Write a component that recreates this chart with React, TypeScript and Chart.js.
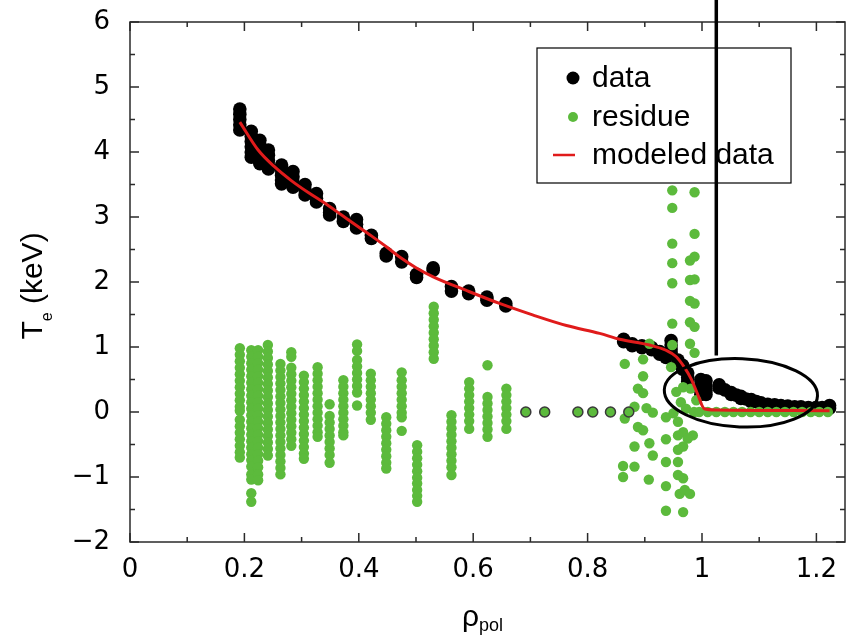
import React, { useEffect, useRef } from 'react';
import { Chart, registerables } from 'chart.js';

Chart.register(...registerables);

// ---- axes ----
const X_MIN = 0;
const X_MAX = 1.25;
const Y_MIN = -2;
const Y_MAX = 6;
const xTickValues = [0, 0.2, 0.4, 0.6, 0.8, 1, 1.2];
const xTickLabels = ['0', '0.2', '0.4', '0.6', '0.8', '1', '1.2'];
const xMinorTickValues = [0.1, 0.3, 0.5, 0.7, 0.9, 1.1];
const yTickValues = [-2, -1, 0, 1, 2, 3, 4, 5, 6];
const yTickLabels = ['\u22122', '\u22121', '0', '1', '2', '3', '4', '5', '6'];
const yMinorTickValues = [-1.5, -0.5, 0.5, 1.5, 2.5, 3.5, 4.5, 5.5];

// ---- measured data (black): columns of points ----
const dataColumnsRho = [
  0.192, 0.212, 0.227, 0.242, 0.265, 0.285, 0.306, 0.326, 0.349, 0.373, 0.396, 0.422, 0.448, 0.475,
  0.501, 0.53, 0.562, 0.592, 0.624, 0.657, 0.863, 0.878, 0.895, 0.912, 0.926, 0.937, 0.946, 0.958,
  0.966, 0.975, 0.998, 1.007, 1.03, 1.04, 1.051, 1.06, 1.068, 1.077, 1.086, 1.095, 1.103, 1.115,
  1.127, 1.138, 1.15, 1.162, 1.173, 1.186, 1.199, 1.21, 1.223,
];
const dataColumnsTe = [
  [4.66, 4.58, 4.5, 4.42, 4.34],
  [4.32, 4.24, 4.16, 4.08, 4.0, 3.92],
  [4.18, 4.1, 4.02, 3.94, 3.86, 3.82],
  [4.03, 3.95, 3.87, 3.8, 3.74],
  [3.8, 3.72, 3.64, 3.57, 3.51],
  [3.7, 3.62, 3.54, 3.46],
  [3.5, 3.42, 3.34],
  [3.36, 3.29, 3.23],
  [3.13, 3.07, 3.03],
  [3.0, 2.93],
  [2.96, 2.89, 2.83],
  [2.72, 2.67],
  [2.44, 2.4],
  [2.39, 2.31],
  [2.12, 2.07],
  [2.22, 2.18],
  [1.93, 1.86],
  [1.86, 1.82],
  [1.77, 1.72],
  [1.67, 1.63],
  [1.12, 1.08],
  [1.05, 1.02],
  [1.02, 0.99],
  [0.99, 0.96],
  [0.93, 0.89],
  [0.87, 0.84],
  [1.1, 1.03, 0.97, 0.91],
  [0.8, 0.75],
  [0.72, 0.66],
  [0.6, 0.53, 0.47],
  [0.5, 0.42, 0.34, 0.27],
  [0.48, 0.4, 0.33, 0.27],
  [0.42, 0.37],
  [0.34],
  [0.3, 0.27],
  [0.26],
  [0.24, 0.21],
  [0.2],
  [0.19, 0.16],
  [0.16],
  [0.14, 0.12],
  [0.12],
  [0.11, 0.09],
  [0.1],
  [0.09, 0.07],
  [0.08],
  [0.08, 0.06],
  [0.07],
  [0.07, 0.05],
  [0.07],
  [0.1, 0.06],
];

// ---- residue (green): columns of points ----
const residueColumnsRho = [
  0.192, 0.212, 0.224, 0.241, 0.263, 0.282, 0.304, 0.328, 0.349, 0.373, 0.397, 0.421, 0.448, 0.475,
  0.502, 0.531, 0.562, 0.593, 0.625, 0.658,
];
const residueColumnsTe = [
  [0.98, 0.88, 0.78, 0.68, 0.58, 0.48, 0.38, 0.28, 0.18, 0.08, 0.02, -0.12, -0.22, -0.32, -0.42, -0.52, -0.62, -0.7],
  [0.95, 0.85, 0.75, 0.65, 0.55, 0.45, 0.35, 0.25, 0.15, 0.05, -0.05, -0.15, -0.25, -0.35, -0.45, -0.55, -0.65, -0.74, -0.84, -0.96, -1.04, -1.25, -1.38],
  [0.95, 0.85, 0.75, 0.65, 0.55, 0.45, 0.35, 0.25, 0.15, 0.05, -0.05, -0.15, -0.25, -0.35, -0.45, -0.55, -0.65, -0.75, -0.85, -0.96, -1.05],
  [1.03, 0.93, 0.83, 0.73, 0.63, 0.53, 0.43, 0.33, 0.23, 0.13, 0.03, -0.07, -0.17, -0.27, -0.37, -0.47, -0.57, -0.67],
  [0.74, 0.64, 0.54, 0.44, 0.34, 0.24, 0.14, 0.04, -0.06, -0.16, -0.26, -0.36, -0.46, -0.56, -0.66, -0.76, -0.86, -0.96],
  [0.92, 0.85, 0.68, 0.58, 0.48, 0.38, 0.28, 0.18, 0.08, -0.02, -0.12, -0.22, -0.32, -0.42, -0.52],
  [0.56, 0.46, 0.36, 0.26, 0.16, 0.06, -0.04, -0.14, -0.24, -0.34, -0.44, -0.54, -0.64, -0.72],
  [0.69, 0.59, 0.49, 0.39, 0.29, 0.19, 0.09, -0.01, -0.11, -0.21, -0.31, -0.38],
  [0.12, -0.06, -0.16, -0.26, -0.36, -0.46, -0.56, -0.66, -0.78],
  [0.49, 0.39, 0.29, 0.19, 0.09, -0.01, -0.11, -0.21, -0.31, -0.36],
  [1.04, 0.94, 0.8, 0.7, 0.6, 0.5, 0.4, 0.3, 0.1],
  [0.59, 0.49, 0.39, 0.29, 0.19, 0.09, -0.01, -0.12],
  [-0.08, -0.18, -0.28, -0.38, -0.48, -0.58, -0.68, -0.78, -0.87],
  [0.61, 0.49, 0.39, 0.29, 0.19, 0.09, -0.01, -0.08, -0.29],
  [-0.51, -0.61, -0.71, -0.81, -0.91, -1.01, -1.1, -1.2, -1.29, -1.38],
  [1.62, 1.52, 1.42, 1.32, 1.22, 1.12, 1.02, 0.92, 0.82],
  [-0.05, -0.15, -0.25, -0.35, -0.45, -0.55, -0.65, -0.75, -0.85, -0.97],
  [0.46, 0.36, 0.26, 0.16, 0.06, -0.04, -0.14, -0.26],
  [0.72, 0.23, 0.13, 0.03, -0.07, -0.17, -0.27, -0.38],
  [0.36, 0.26, 0.16, 0.06, -0.04, -0.14, -0.26],
];

// ---- residue (green): scattered points near the edge ----
const residueEdgeRho = [
  0.948, 0.948, 0.948, 0.948, 0.948, 0.948, 0.948,
  0.987, 0.987, 0.979, 0.987, 0.979, 0.987, 0.979, 0.987, 0.979, 0.987, 0.979, 0.987,
  0.908, 0.897, 0.865, 0.897, 0.888, 0.897, 0.882, 0.903, 0.914, 0.865, 0.937, 0.958, 0.888,
  0.897, 0.967, 0.958, 0.984, 0.975, 0.937, 0.908, 0.882, 0.967, 0.958, 0.914, 0.937, 0.958,
  0.882, 0.862, 0.862, 0.907, 0.958, 0.967, 0.937, 0.961, 0.97, 0.979, 0.937, 0.967,
  0.946, 0.967, 0.98, 0.955, 0.963, 0.99, 0.986, 0.972, 0.95,
];
const residueEdgeTe = [
  3.41, 3.14, 2.59, 2.29, 1.98, 1.36, 1.03,
  3.38, 2.74, 2.33, 2.39, 2.03, 2.04, 1.71, 1.67, 1.38, 1.31, 1.05, 0.91,
  1.05, 0.81, 0.74, 0.55, 0.36, 0.29, 0.08, 0.06, -0.01, -0.1, -0.08, -0.15, -0.23,
  -0.28, -0.31, -0.36, -0.36, -0.41, -0.42, -0.48, -0.53, -0.53, -0.58, -0.67, -0.77, -0.77,
  -0.84, -0.83, -1.0, -1.04, -0.97, -1.02, -1.14, -1.26, -1.2, -1.26, -1.52, -1.54,
  0.69, 0.38, 0.36, 0.31, 0.15, 0.18, 0.0, 0.05, -0.02,
];
// residue along zero outside the separatrix
const residueOuterRho = [0.995, 1.01, 1.025, 1.04, 1.055, 1.07, 1.085, 1.1, 1.115, 1.13, 1.145, 1.16, 1.175, 1.19, 1.205, 1.22];
const residueOuterTe = [0, 0, 0, 0, 0, 0, 0, 0, 0, 0, 0, 0, 0, 0, 0, 0];
// residue dots at zero (outlined)
const residueZeroRho = [0.692, 0.725, 0.783, 0.809, 0.84, 0.872];
const residueZeroTe = [0, 0, 0, 0, 0, 0];

// ---- modeled data (red line) ----
const modelRho = [
  0.192, 0.224, 0.253, 0.282, 0.311, 0.341, 0.37, 0.399, 0.425, 0.45, 0.472, 0.5, 0.53, 0.588,
  0.646, 0.705, 0.763, 0.821, 0.856, 0.908, 0.937, 0.955, 0.969, 0.981, 0.993, 1.004, 1.025, 1.223,
];
const modelTe = [
  4.46, 4.03, 3.77, 3.56, 3.38, 3.21, 3.03, 2.85, 2.69, 2.53, 2.38, 2.22, 2.08, 1.87,
  1.67, 1.49, 1.33, 1.21, 1.12, 1.03, 0.95, 0.85, 0.69, 0.51, 0.26, 0.05, 0.03, 0.02,
];

// ---- annotations ----
const markerRho = 1.025;
const markerTeBottom = 0.87;
const ellipseRho = 1.068;
const ellipseTe = 0.295;
const ellipseRhoRadius = 0.134;
const ellipseTeRadius = 0.525;
const ellipseTilt = 0.04;

const seriesLabels = ['data', 'residue', 'modeled data'];

const BLACK = '#000000';
const GREEN = '#5cba3c';
const RED = '#e01b1b';
const AXIS = '#2a2a2a';

const columnsToPoints = (rhos: number[], cols: number[][]) =>
  rhos.flatMap((r, i) => cols[i].map((v) => ({ x: r, y: v })));
const pairsToPoints = (rhos: number[], tes: number[]) => rhos.map((r, i) => ({ x: r, y: tes[i] }));

const decorPlugin = {
  id: 'decor',
  afterDatasetsDraw(chart: any) {
    const { ctx, chartArea: a, scales } = chart;
    const xs = scales.x;
    const ys = scales.y;
    ctx.save();
    // frame
    ctx.strokeStyle = AXIS;
    ctx.lineWidth = 1.5;
    ctx.strokeRect(a.left, a.top, a.right - a.left, a.bottom - a.top);
    // inward ticks, all four sides
    const drawX = (vals: number[], len: number) => {
      vals.forEach((v) => {
        const px = xs.getPixelForValue(v);
        ctx.beginPath();
        ctx.moveTo(px, a.bottom);
        ctx.lineTo(px, a.bottom - len);
        ctx.moveTo(px, a.top);
        ctx.lineTo(px, a.top + len);
        ctx.stroke();
      });
    };
    const drawY = (vals: number[], len: number) => {
      vals.forEach((v) => {
        const py = ys.getPixelForValue(v);
        ctx.beginPath();
        ctx.moveTo(a.left, py);
        ctx.lineTo(a.left + len, py);
        ctx.moveTo(a.right, py);
        ctx.lineTo(a.right - len, py);
        ctx.stroke();
      });
    };
    drawX(xTickValues, 9);
    drawX(xMinorTickValues, 5);
    drawY(yTickValues, 9);
    drawY(yMinorTickValues, 5);

    // ellipse
    const cx = xs.getPixelForValue(ellipseRho);
    const cy = ys.getPixelForValue(ellipseTe);
    const rx = xs.getPixelForValue(ellipseRho + ellipseRhoRadius) - cx;
    const ry = cy - ys.getPixelForValue(ellipseTe + ellipseTeRadius);
    ctx.beginPath();
    ctx.ellipse(cx, cy, rx, ry, ellipseTilt, 0, Math.PI * 2);
    ctx.lineWidth = 3;
    ctx.strokeStyle = BLACK;
    ctx.stroke();
    ctx.restore();
  },
  afterDraw(chart: any) {
    const { ctx, chartArea: a, scales } = chart;
    const xs = scales.x;
    const ys = scales.y;
    ctx.save();

    // legend
    const lx = a.right - 308;
    const ly = a.top + 26;
    const lw = 254;
    const lh = 135;
    ctx.fillStyle = '#ffffff';
    ctx.fillRect(lx, ly, lw, lh);
    ctx.strokeStyle = BLACK;
    ctx.lineWidth = 1.2;
    ctx.strokeRect(lx, ly, lw, lh);
    const rowY = [ly + 30, ly + 69, ly + 107];
    const markX = lx + 36;
    ctx.fillStyle = BLACK;
    ctx.beginPath();
    ctx.arc(markX, rowY[0], 6.5, 0, Math.PI * 2);
    ctx.fill();
    ctx.fillStyle = GREEN;
    ctx.beginPath();
    ctx.arc(markX, rowY[1], 5, 0, Math.PI * 2);
    ctx.fill();
    ctx.strokeStyle = RED;
    ctx.lineWidth = 2.5;
    ctx.beginPath();
    ctx.moveTo(markX - 20, rowY[2]);
    ctx.lineTo(markX + 2, rowY[2]);
    ctx.stroke();
    ctx.fillStyle = BLACK;
    ctx.font = '30px "Liberation Sans", Arial, sans-serif';
    ctx.textBaseline = 'alphabetic';
    ctx.textAlign = 'left';
    seriesLabels.forEach((t, i) => ctx.fillText(t, lx + 55, rowY[i] + 9));

    // vertical marker line (extends above the plot)
    const mx = xs.getPixelForValue(markerRho);
    const my = ys.getPixelForValue(markerTeBottom);
    ctx.strokeStyle = BLACK;
    ctx.lineWidth = 3.5;
    ctx.beginPath();
    ctx.moveTo(mx, my);
    ctx.lineTo(mx, 0);
    ctx.stroke();

    // y-axis title: T_e (keV)
    const big = '30px "Liberation Sans", Arial, sans-serif';
    const small = '16px "Liberation Sans", Arial, sans-serif';
    ctx.save();
    ctx.translate(a.left - 88, (a.top + a.bottom) / 2 + 4);
    ctx.rotate(-Math.PI / 2);
    ctx.font = big;
    const wT = ctx.measureText('T').width;
    const wRest = ctx.measureText(' (keV)').width;
    ctx.font = small;
    const wE = ctx.measureText('e').width;
    let px = -(wT + wE + wRest) / 2;
    ctx.font = big;
    ctx.fillText('T', px, 0);
    px += wT;
    ctx.font = small;
    ctx.fillText('e', px, 10);
    px += wE;
    ctx.font = big;
    ctx.fillText(' (keV)', px, 0);
    ctx.restore();

    // x-axis title: rho_pol
    ctx.font = big;
    const wRho = ctx.measureText('\u03C1').width;
    const smallX = '18px "Liberation Sans", Arial, sans-serif';
    ctx.font = smallX;
    const wPol = ctx.measureText('pol').width;
    let tx = (a.left + a.right) / 2 - 5 - (wRho + wPol) / 2;
    const base = a.bottom + 84;
    ctx.font = big;
    ctx.fillText('\u03C1', tx, base);
    tx += wRho;
    ctx.font = smallX;
    ctx.fillText('pol', tx, base + 5);

    ctx.restore();
  },
};

export default function App() {
  const canvasRef = useRef<HTMLCanvasElement | null>(null);

  useEffect(() => {
    if (!canvasRef.current) return;
    const tickFont = { family: '"DejaVu Sans", sans-serif', size: 26 };
    const chart = new Chart(canvasRef.current, {
      type: 'scatter',
      data: {
        datasets: [
          {
            label: seriesLabels[2],
            data: pairsToPoints(modelRho, modelTe),
            showLine: true,
            borderColor: RED,
            borderWidth: 3,
            pointRadius: 0,
            cubicInterpolationMode: 'monotone',
            order: 0,
          } as any,
          {
            label: '',
            data: pairsToPoints(residueZeroRho, residueZeroTe),
            backgroundColor: GREEN,
            borderColor: '#3a3a3a',
            borderWidth: 1.5,
            pointRadius: 5,
            order: 1,
          },
          {
            label: seriesLabels[1],
            data: [
              ...columnsToPoints(residueColumnsRho, residueColumnsTe),
              ...pairsToPoints(residueEdgeRho, residueEdgeTe),
              ...pairsToPoints(residueOuterRho, residueOuterTe),
            ],
            backgroundColor: GREEN,
            borderWidth: 0,
            pointRadius: 5.2,
            order: 2,
          },
          {
            label: seriesLabels[0],
            data: columnsToPoints(dataColumnsRho, dataColumnsTe),
            backgroundColor: BLACK,
            borderWidth: 0,
            pointRadius: 6.8,
            order: 3,
          },
        ],
      },
      options: {
        animation: false,
        responsive: false,
        events: [],
        layout: { padding: { top: 22, right: 7, left: 0, bottom: 0 } },
        plugins: { legend: { display: false }, tooltip: { enabled: false } },
        scales: {
          x: {
            type: 'linear',
            min: X_MIN,
            max: X_MAX,
            position: 'bottom',
            afterBuildTicks: (s: any) => {
              s.ticks = xTickValues.map((v) => ({ value: v }));
            },
            afterFit: (s: any) => {
              s.height = 97;
              s.paddingLeft = 0;
              s.paddingRight = 0;
            },
            grid: { display: false, drawTicks: false, tickLength: 0 },
            border: { display: false },
            ticks: {
              font: tickFont,
              color: '#000',
              padding: 13,
              maxRotation: 0,
              minRotation: 0,
              autoSkip: false,
              callback: (_v: any, i: number) => xTickLabels[i],
            },
          },
          y: {
            type: 'linear',
            min: Y_MIN,
            max: Y_MAX,
            afterBuildTicks: (s: any) => {
              s.ticks = yTickValues.map((v) => ({ value: v }));
            },
            afterFit: (s: any) => {
              s.width = 130;
              s.paddingTop = 0;
              s.paddingBottom = 0;
            },
            grid: { display: false, drawTicks: false, tickLength: 0 },
            border: { display: false },
            ticks: {
              font: tickFont,
              color: '#000',
              padding: 20,
              autoSkip: false,
              callback: (_v: any, i: number) => yTickLabels[i],
            },
          },
        },
      },
      plugins: [decorPlugin],
    });
    return () => chart.destroy();
  }, []);

  return (
    <div style={{ position: 'absolute', left: 0, top: 0, width: 852, height: 639, background: '#fff' }}>
      <canvas ref={canvasRef} width={852} height={639} style={{ display: 'block' }} />
    </div>
  );
}
